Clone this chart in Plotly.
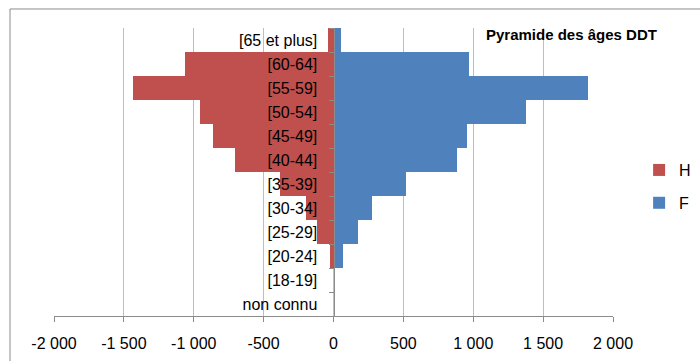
import plotly.graph_objects as go

categories = ["[65 et plus]", "[60-64]", "[55-59]", "[50-54]", "[45-49]", "[40-44]",
              "[35-39]", "[30-34]", "[25-29]", "[20-24]", "[18-19]", "non connu"]
hommes = [-36, -1060, -1432, -958, -862, -708, -386, -195, -119, -24, 0, 0]
femmes = [52, 970, 1818, 1380, 953, 884, 520, 279, 176, 67, 0, 0]
x_tickvals = [-2000, -1500, -1000, -500, 0, 500, 1000, 1500, 2000]
x_ticktext = ["-2 000", "-1 500", "-1 000", "-500", "0", "500", "1 000", "1 500", "2 000"]

RED = "#C0504D"
BLUE = "#4F81BD"
FONT = "Liberation Sans, Arial, sans-serif"

fig = go.Figure()
fig.add_trace(go.Bar(y=categories, x=hommes, orientation="h", name="H",
                     marker=dict(color=RED, line=dict(width=0)), legend="legend"))
fig.add_trace(go.Bar(y=categories, x=femmes, orientation="h", name="F",
                     marker=dict(color=BLUE, line=dict(width=0)), legend="legend2"))

fig.update_layout(
    width=700, height=361,
    margin=dict(l=54, r=87, t=28, b=45),
    paper_bgcolor="white", plot_bgcolor="white",
    barmode="relative", bargap=0,
    font=dict(family=FONT, size=16, color="#000000"),
    xaxis=dict(range=[-2000, 2000], tickvals=x_tickvals, ticktext=x_ticktext,
               showgrid=True, gridcolor="#BEBEBE", gridwidth=1, zeroline=False,
               showline=True, linecolor="#8C8C8C", linewidth=1,
               ticks="outside", ticklen=5, tickcolor="#8C8C8C", ticklabelstandoff=8,
               tickfont=dict(size=16, color="#000000"), automargin=False,
               fixedrange=True),
    yaxis=dict(categoryorder="array", categoryarray=categories, autorange="reversed",
               anchor="free", position=0.5, showgrid=False, zeroline=False,
               showline=True, linecolor="#8C8C8C", linewidth=1,
               ticks="outside", ticklen=5, tickcolor="#8C8C8C", tickson="boundaries",
               tickfont=dict(size=16, color="#000000"), ticklabelstandoff=13,
               automargin=False, fixedrange=True),
    legend=dict(xref="container", yref="container", x=0.913, y=0.529,
                xanchor="left", yanchor="middle",
                font=dict(size=16, color="#000000"), bgcolor="rgba(0,0,0,0)"),
    legend2=dict(xref="container", yref="container", x=0.913, y=0.438,
                 xanchor="left", yanchor="middle",
                 font=dict(size=16, color="#000000"), bgcolor="rgba(0,0,0,0)"),
    showlegend=True,
)

fig.add_annotation(text="<b>Pyramide des âges DDT</b>", xref="paper", yref="paper",
                   x=0.925, y=0.979, xanchor="center", yanchor="middle", showarrow=False,
                   font=dict(family=FONT, size=15, color="#000000"))

# chart area border (extends beyond the visible window like the reference)
fig.add_shape(type="rect", xref="paper", yref="paper",
              x0=-0.0787, y0=-0.4, x1=1.3, y1=1.066,
              line=dict(color="#8C8C8C", width=1), layer="below")

fig.write_html("out.html")
